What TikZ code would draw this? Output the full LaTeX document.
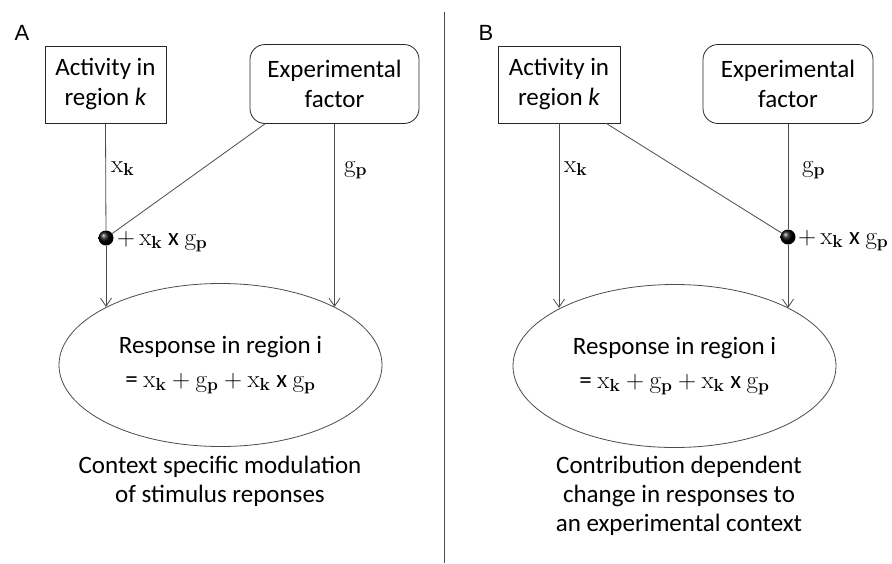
\RequirePackage{fix-cm}
\documentclass[tikz,border=0pt]{standalone}
\usepackage[no-math]{fontspec}
\setmainfont{Carlito}
\newfontfamily\arialf{Liberation Sans}
\usetikzlibrary{shapes.geometric,arrows.meta,calc}
\newcommand{\xk}{\mathrm{x}_{\mathbf{k}}}
\newcommand{\gp}{\mathrm{g}_{\mathbf{p}}}
\begin{document}
\begin{tikzpicture}[x=1pt,y=-1pt,
  conn/.style={draw=black!70, line width=0.8pt},
  arr/.style={conn, -{Straight Barb[length=8pt,width=11pt]}},
  boxsq/.style={draw=black!85, line width=0.8pt, minimum width=121pt, minimum height=77pt, inner sep=0pt, align=center, font=\fontsize{25}{30}\selectfont},
  boxrd/.style={boxsq, rounded corners=15pt, minimum width=169pt, minimum height=79pt},
  resp/.style={ellipse, draw=black!70, line width=0.8pt, minimum width=323pt, minimum height=163pt, inner sep=0pt, align=center, font=\fontsize{25}{30}\selectfont},
  dotb/.style={circle, shading=ball, ball color=black, minimum size=15pt, inner sep=0pt},
  mlab/.style={font=\fontsize{25}{30}\selectfont, inner sep=0pt, anchor=base west},
  captxt/.style={align=center, font=\fontsize{25}{29}\selectfont},
  panel/.style={font=\arialf\fontsize{22}{26}\selectfont, inner sep=0pt}
]
\useasboundingbox (0,0) rectangle (892,563);
\fill[white] (0,0) rectangle (892,563);

% divider
\coordinate (divT) at (444,12);
\coordinate (divB) at (444,563);
\draw[conn] (divT) -- (divB);

% ---------------- Panel A ----------------
\node[panel] (labA) at (22,33) {A};
\node[boxsq] (actA) at (105.5,84.5) {Activity in\\region \textit{k}};
\node[boxrd] (expA) at (334.5,84) {Experimental\\factor};
\node[resp] (ellA) at (220.5,365) {Response in region i\\[4pt]{\fontsize{25}{30}\selectfont = $\xk+\gp+\xk$ x $\gp$}};
\node[dotb] (dotA) at (106,238) {};
\node[mlab] (lxA) at (111,172) {$\xk$};
\node[mlab] (lgA) at (344,172) {$\gp$};
\node[mlab] (lmA) at (117,245) {$+\,\xk$ x $\gp$};

\draw[conn] (actA.south) -- (dotA);
\draw[arr] (dotA) -- (dotA |- ellA.153);
\draw[arr] (expA.south) -- (expA.south |- ellA.27);
\draw[conn] ($(expA.south west)!0.09!(expA.south east)$) -- (dotA);

\node[captxt] (capA) at (220,481) {Context specific modulation\\of stimulus reponses};

% ---------------- Panel B ----------------
\node[panel] (labB) at (486,33) {B};
\node[boxsq, minimum width=122pt] (actB) at (559,84.5) {Activity in\\region \textit{k}};
\node[boxrd, minimum width=170pt] (expB) at (788,84) {Experimental\\factor};
\node[resp] (ellB) at (674.5,366) {Response in region i\\[4pt]{\fontsize{25}{30}\selectfont = $\xk+\gp+\xk$ x $\gp$}};
\node[dotb] (dotB) at (788,237) {};
\node[mlab] (lxB) at (564,172) {$\xk$};
\node[mlab] (lgB) at (802,172) {$\gp$};
\node[mlab] (lmB) at (798,244) {$+\,\xk$ x $\gp$};

\draw[arr] (actB.south) -- (actB.south |- ellB.153);
\draw[conn] (expB.south) -- (dotB);
\draw[arr] (dotB) -- (dotB |- ellB.27);
\draw[conn] ($(actB.south west)!0.885!(actB.south east)$) -- (dotB);

\node[captxt] (capB) at (679,496) {Contribution dependent\\change in responses to\\an experimental context};
\end{tikzpicture}
\end{document}
